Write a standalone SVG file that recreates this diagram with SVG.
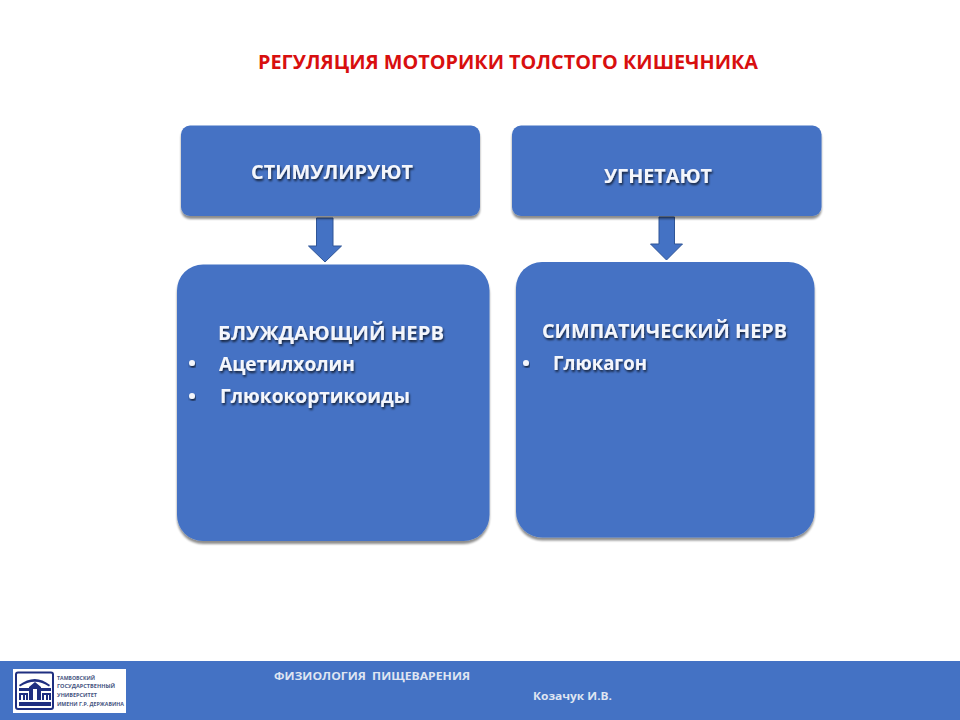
<svg xmlns="http://www.w3.org/2000/svg" width="960" height="720" viewBox="0 0 960 720">
<defs>
<filter id="sh" x="-5%" y="-5%" width="110%" height="115%"><feGaussianBlur in="SourceAlpha" stdDeviation="1.200"/><feOffset dy="3"/><feComponentTransfer><feFuncA type="linear" slope="0.45"/></feComponentTransfer><feMerge><feMergeNode/><feMergeNode in="SourceGraphic"/></feMerge></filter>
<filter id="ts" x="-5%" y="-20%" width="110%" height="150%"><feGaussianBlur in="SourceAlpha" stdDeviation="0.800"/><feOffset dx="0.500" dy="2"/><feComponentTransfer><feFuncA type="linear" slope="0.7"/></feComponentTransfer><feMerge><feMergeNode/><feMergeNode in="SourceGraphic"/></feMerge></filter>
</defs>
<style>
text{font-family:"Open Sans","Noto Sans","Liberation Sans",sans-serif;font-weight:700}
.box{fill:#4472c4;filter:url(#sh)}
.w{fill:#f4f6fb;filter:url(#ts)}
.arrow{fill:#4472c4;stroke:#2f5597;stroke-width:1}
.f{fill:#dfe5f2;font-size:10.500px}
.l{fill:#46557f;font-size:5.600px}
</style>
<rect width="960" height="720" fill="#fff"/>
<text x="258" y="69" font-size="20" fill="#d80f0f" textLength="500" lengthAdjust="spacingAndGlyphs">РЕГУЛЯЦИЯ МОТОРИКИ ТОЛСТОГО КИШЕЧНИКА</text>
<g id="connectors">
<path class="arrow" d="M316.500 218H333V246H341.500L325 262L308.500 246H316.500Z"/>
<path class="arrow" d="M659 217H674.500V244H682.500L666.500 260L650.500 244H659Z"/>
</g>
<g id="node-stim">
<rect class="box" x="181" y="125.500" width="299" height="90.500" rx="9"/>
<text class="w" x="251" y="179" font-size="20" textLength="162" lengthAdjust="spacingAndGlyphs">СТИМУЛИРУЮТ</text>
</g>
<g id="node-ugn">
<rect class="box" x="512" y="125.500" width="309.500" height="90.500" rx="9"/>
<text class="w" x="604" y="183" font-size="20" textLength="108" lengthAdjust="spacingAndGlyphs">УГНЕТАЮТ</text>
</g>
<g id="node-vagus">
<rect class="box" x="177" y="264.500" width="312.500" height="276.500" rx="26"/>
<text class="w" x="218" y="340" font-size="20" textLength="226" lengthAdjust="spacingAndGlyphs">БЛУЖДАЮЩИЙ НЕРВ</text>
<circle class="w" cx="192" cy="363" r="3"/>
<text class="w" x="219" y="371" font-size="19" textLength="136" lengthAdjust="spacingAndGlyphs">Ацетилхолин</text>
<circle class="w" cx="192" cy="396" r="3"/>
<text class="w" x="220" y="403" font-size="19" textLength="190" lengthAdjust="spacingAndGlyphs">Глюкокортикоиды</text>
</g>
<g id="node-symp">
<rect class="box" x="516" y="262" width="298.500" height="275.500" rx="26"/>
<text class="w" x="542" y="338" font-size="20" textLength="245" lengthAdjust="spacingAndGlyphs">СИМПАТИЧЕСКИЙ НЕРВ</text>
<circle class="w" cx="526" cy="363" r="3"/>
<text class="w" x="553" y="370" font-size="19" textLength="94" lengthAdjust="spacingAndGlyphs">Глюкагон</text>
</g>
<g id="footer">
<rect x="0" y="661" width="960" height="59" fill="#4472c4"/>
<text class="f" x="274" y="680" textLength="196" lengthAdjust="spacingAndGlyphs" xml:space="preserve">ФИЗИОЛОГИЯ  ПИЩЕВАРЕНИЯ</text>
<text class="f" x="533" y="700" textLength="79" lengthAdjust="spacingAndGlyphs">Козачук И.В.</text>
</g>
<g id="logo">
<rect x="13" y="669" width="113" height="44" fill="#fff"/>
<rect x="16" y="672.500" width="37" height="36.500" rx="2" fill="#fff" stroke="#1f2f80" stroke-width="2"/>
<path d="M19 685Q35 673 50 685L49 686.500Q35 677 20 686.500Z" fill="#1f2f80"/>
<path d="M19 688H29V691H19ZM41 688H51V691H41ZM29 687L35 682L41 687V700H29ZM19 693H28V700H19ZM42 693H51V700H42ZM19 702H51V706H19Z" fill="#1f2f80"/>
<path d="M33 689H37V700H33ZM21 695H23V700H21ZM25 695H26V700H25ZM44 695H46V700H44ZM48 695H49V700H48Z" fill="#fff"/>
<text class="l" x="57" y="679.500" textLength="38" lengthAdjust="spacingAndGlyphs">ТАМБОВСКИЙ</text>
<text class="l" x="57" y="688" textLength="58" lengthAdjust="spacingAndGlyphs">ГОСУДАРСТВЕННЫЙ</text>
<text class="l" x="57" y="697" textLength="40" lengthAdjust="spacingAndGlyphs">УНИВЕРСИТЕТ</text>
<text class="l" x="57" y="706" textLength="67" lengthAdjust="spacingAndGlyphs">ИМЕНИ Г.Р. ДЕРЖАВИНА</text>
</g>
</svg>
